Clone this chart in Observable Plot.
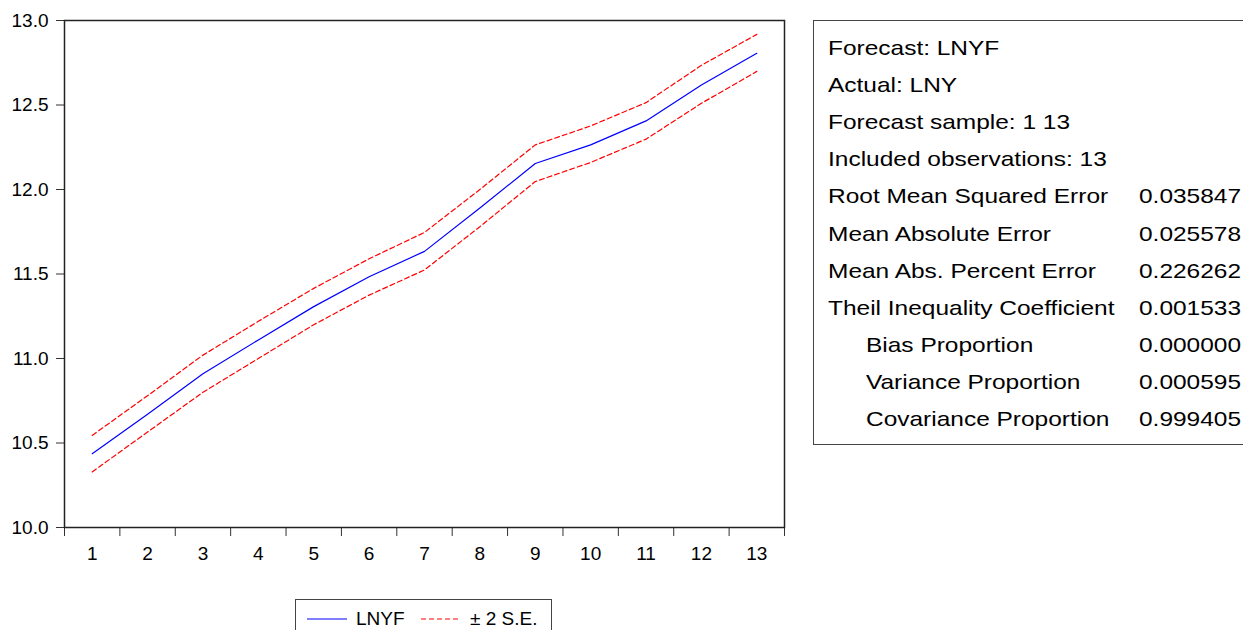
<!DOCTYPE html>
<html>
<head>
<meta charset="utf-8">
<script src="https://cdn.jsdelivr.net/npm/d3@7"></script>
<script src="https://cdn.jsdelivr.net/npm/@observablehq/plot@0.6"></script>
<style>
  html, body { margin: 0; padding: 0; background: #fff; }
  #wrap { position: relative; width: 1243px; height: 630px; overflow: hidden; background: #fff;
          font-family: "Liberation Sans", Arial, sans-serif; color: #000; }
  #chart { position: absolute; left: 0; top: 0; }
  #stats { position: absolute; left: 813px; top: 20px; width: 460px; height: 425px;
           border: 1px solid #444; box-sizing: border-box; }
  .row { position: absolute; height: 37px; line-height: 37px; font-size: 21px; white-space: nowrap;
         transform: scaleX(1.165); transform-origin: 0 50%; }
  #legend { position: absolute; left: 295px; top: 599px; width: 257px; height: 60px;
            border: 1px solid #444; box-sizing: border-box; font-size: 19px; }
  #legend .item { position: absolute; top: 4px; line-height: 30px; white-space: nowrap; }
</style>
</head>
<body>
<div id="wrap">
  <div id="chart"></div>
  <div id="stats"></div>
  <div id="legend"></div>
</div>
<script>
// ---- data ----
const obs = [1, 2, 3, 4, 5, 6, 7, 8, 9, 10, 11, 12, 13];
const xLabels = ["1", "2", "3", "4", "5", "6", "7", "8", "9", "10", "11", "12", "13"];
const lnyf  = [10.437, 10.670, 10.910, 11.110, 11.307, 11.484, 11.634, 11.890, 12.154, 12.264, 12.406, 12.618, 12.806];
const upper = [10.545, 10.780, 11.020, 11.220, 11.415, 11.590, 11.746, 12.000, 12.264, 12.376, 12.514, 12.735, 12.918];
const lower = [10.329, 10.565, 10.800, 11.000, 11.200, 11.375, 11.524, 11.780, 12.047, 12.160, 12.298, 12.510, 12.699];
const yTicks = [10.0, 10.5, 11.0, 11.5, 12.0, 12.5, 13.0];

const statLabels = ["Forecast: LNYF", "Actual: LNY", "Forecast sample: 1 13", "Included observations: 13",
  "Root Mean Squared Error", "Mean Absolute Error", "Mean Abs. Percent Error", "Theil Inequality Coefficient",
  "Bias Proportion", "Variance Proportion", "Covariance Proportion"];
const statValues = ["", "", "", "", "0.035847", "0.025578", "0.226262", "0.001533", "0.000000", "0.000595", "0.999405"];
const statIndent = [0, 0, 0, 0, 0, 0, 0, 0, 1, 1, 1];

const legendLabels = ["LNYF", "\u00b1 2 S.E."];
const lineColor = "#0000ff";
const bandColor = "#ff0000";

// ---- chart ----
const rows = obs.map((d, i) => ({obs: d, lnyf: lnyf[i], upper: upper[i], lower: lower[i]}));
const bounds = obs.map(d => d - 0.5).concat([obs[obs.length - 1] + 0.5]);

const chart = Plot.plot({
  width: 1243,
  height: 595,
  marginLeft: 64,
  marginRight: 459,
  marginTop: 20,
  marginBottom: 68,
  x: {domain: [bounds[0], bounds[bounds.length - 1]]},
  y: {domain: [yTicks[0], yTicks[yTicks.length - 1]]},
  style: {fontFamily: "'Liberation Sans', Arial, sans-serif", fontSize: "19px", color: "#000", background: "#fff", overflow: "visible"},
  marks: [
    Plot.axisY({ticks: yTicks, tickFormat: d3.format(".1f"), tickSize: 8, tickPadding: 8, label: null, stroke: "#333", fontSize: 19}),
    Plot.axisX({ticks: bounds, tickSize: 9, tickFormat: () => "", label: null, stroke: "#333"}),
    Plot.axisX({ticks: obs, tickSize: 0, tickPadding: 19, tickFormat: (d, i) => xLabels[i], label: null, fontSize: 19}),
    Plot.line(rows, {x: "obs", y: "upper", stroke: bandColor, strokeWidth: 1.2, strokeDasharray: "5,3"}),
    Plot.line(rows, {x: "obs", y: "lower", stroke: bandColor, strokeWidth: 1.2, strokeDasharray: "5,3"}),
    Plot.line(rows, {x: "obs", y: "lnyf", stroke: lineColor, strokeWidth: 1.2}),
    Plot.frame({stroke: "#222", strokeWidth: 1.5})
  ]
});
document.getElementById("chart").appendChild(chart);

// ---- stats box ----
const stats = document.getElementById("stats");
statLabels.forEach((lab, i) => {
  const top = 8 + i * 37.1;
  const l = document.createElement("div");
  l.className = "row";
  l.style.top = top + "px";
  l.style.left = (statIndent[i] ? 52 : 14) + "px";
  l.textContent = lab;
  stats.appendChild(l);
  if (statValues[i]) {
    const v = document.createElement("div");
    v.className = "row";
    v.style.top = top + "px";
    v.style.left = "325px";
    v.textContent = statValues[i];
    stats.appendChild(v);
  }
});

// ---- legend ----
const legend = document.getElementById("legend");
const sw = (color, dash, left) => {
  const s = document.createElementNS("http://www.w3.org/2000/svg", "svg");
  s.setAttribute("width", 40); s.setAttribute("height", 10);
  s.style.position = "absolute"; s.style.left = left + "px"; s.style.top = "14px";
  const ln = document.createElementNS("http://www.w3.org/2000/svg", "line");
  ln.setAttribute("x1", 0); ln.setAttribute("x2", 40); ln.setAttribute("y1", 5); ln.setAttribute("y2", 5);
  ln.setAttribute("stroke", color); ln.setAttribute("stroke-width", 1.2);
  if (dash) ln.setAttribute("stroke-dasharray", dash);
  s.appendChild(ln);
  legend.appendChild(s);
};
sw(lineColor, null, 11);
const t1 = document.createElement("div"); t1.className = "item"; t1.style.left = "60px"; t1.textContent = legendLabels[0]; legend.appendChild(t1);
sw(bandColor, "5,3", 125);
const t2 = document.createElement("div"); t2.className = "item"; t2.style.left = "174px"; t2.textContent = legendLabels[1]; legend.appendChild(t2);
</script>
</body>
</html>
